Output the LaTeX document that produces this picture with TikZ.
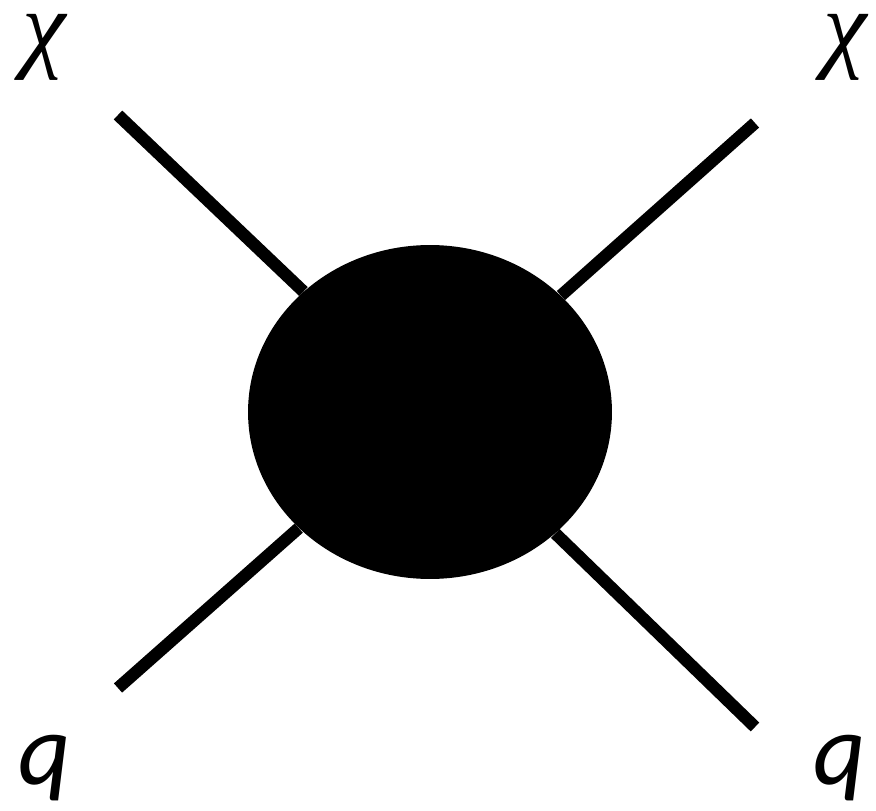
\documentclass[tikz,border=0pt]{standalone}
\usepackage{fontspec}
\setmainfont{Carlito}
\newfontfamily\greekfont{Liberation Serif}
\usetikzlibrary{shapes.geometric}
\tikzset{
  blob/.style={ellipse,fill=black,inner sep=0pt,minimum width=7.28cm,minimum height=6.68cm},
  leg/.style={black,line width=7pt},
  tag/.style={font=\fontsize{58}{66}\selectfont\itshape,inner sep=0pt},
  greektag/.style={font=\fontsize{56}{62}\greekfont\itshape\selectfont,inner sep=0pt},
}
\begin{document}
\begin{tikzpicture}[x=0.02cm,y=-0.02cm]
  \useasboundingbox (0,0) rectangle (876,811);
  \node[blob] (vertex) at (430,412) {};
  \coordinate (tl) at (118,115);
  \coordinate (tr) at (755,123);
  \coordinate (bl) at (118,688);
  \coordinate (br) at (755,727);
  \foreach \c in {tl,tr,bl,br}
    \draw[leg] (\c) -- (vertex);
  \node[greektag] (chil) at (44,47) {χ};
  \node[greektag] (chir) at (845,47) {χ};
  \node[tag] (ql) at (45,768) {q};
  \node[tag] (qr) at (840,768) {q};
\end{tikzpicture}
\end{document}
